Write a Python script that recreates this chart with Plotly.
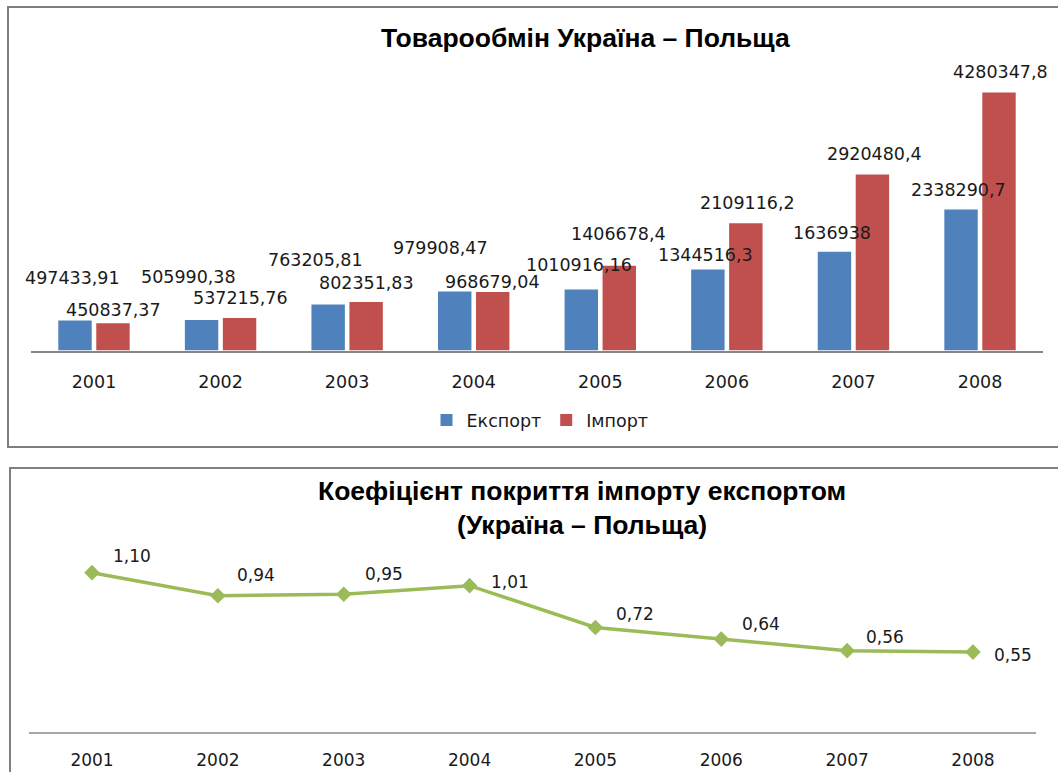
import plotly.graph_objects as go

years = ["2001", "2002", "2003", "2004", "2005", "2006", "2007", "2008"]
export_vals = [497433.91, 505990.38, 763205.81, 979908.47, 1010916.16, 1344516.3, 1636938, 2338290.7]
import_vals = [450837.37, 537215.76, 802351.83, 968679.04, 1406678.4, 2109116.2, 2920480.4, 4280347.8]
export_labels = ["497433,91", "505990,38", "763205,81", "979908,47", "1010916,16", "1344516,3", "1636938", "2338290,7"]
import_labels = ["450837,37", "537215,76", "802351,83", "968679,04", "1406678,4", "2109116,2", "2920480,4", "4280347,8"]
coef_vals = [1.10, 0.94, 0.95, 1.01, 0.72, 0.64, 0.56, 0.55]
coef_labels = ["1,10", "0,94", "0,95", "1,01", "0,72", "0,64", "0,56", "0,55"]

title_top = "Товарообмін Україна – Польща"
title_bottom = "Коефіцієнт покриття імпорту експортом<br>(Україна – Польща)"

# label offsets (style, pixels)
exp_dx = [0, -11, -11, -12, 0, 0, 0, -1]
exp_dy = [43, 43, 44, 43, 25, 14, 19, 20]
imp_dx = [-1, -1, -2, -2, -3, 0, 0, -1]
imp_dy = [13, 20, 19, 10, 32, 20, 20, 20]
coef_dx = [40, 38, 40, 40, 40, 40, 38, 40]
coef_dy = [17, 21, 20, 4, 14, 15, 14, -3]

W, H = 1058, 772
BLUE = "#4F81BD"
RED = "#C0504D"
GREEN = "#9BBB59"
LFONT = "DejaVu Sans"
TFONT = "Liberation Sans"

def px(x):
    return x / W

def py(y):
    return 1 - y / H

fig = go.Figure()
fig.add_trace(go.Bar(x=years, y=export_vals, name="Експорт", marker_color=BLUE,
                     marker_line_width=0, xaxis="x", yaxis="y"))
fig.add_trace(go.Bar(x=years, y=import_vals, name="Імпорт", marker_color=RED,
                     marker_line_width=0, xaxis="x", yaxis="y"))
fig.add_trace(go.Scatter(x=years, y=coef_vals, mode="lines+markers", showlegend=False,
                         line=dict(color=GREEN, width=3.5),
                         marker=dict(symbol="diamond", size=12, color=GREEN),
                         xaxis="x2", yaxis="y2"))

annotations = []
for i, yr in enumerate(years):
    annotations.append(dict(x=i, y=export_vals[i], xref="x", yref="y", text=export_labels[i],
                            showarrow=False, xshift=-21 + exp_dx[i], yshift=exp_dy[i],
                            font=dict(family=LFONT, size=17.5, color="#1a1a1a")))
    annotations.append(dict(x=i, y=import_vals[i], xref="x", yref="y", text=import_labels[i],
                            showarrow=False, xshift=21 + imp_dx[i], yshift=imp_dy[i],
                            font=dict(family=LFONT, size=17.5, color="#1a1a1a")))
    annotations.append(dict(x=i, y=coef_vals[i], xref="x2", yref="y2", text=coef_labels[i],
                            showarrow=False, xshift=coef_dx[i], yshift=coef_dy[i],
                            font=dict(family=LFONT, size=17, color="#1a1a1a")))

annotations.append(dict(x=px(585), y=py(38), xref="paper", yref="paper", text="<b>" + title_top + "</b>",
                        showarrow=False, xanchor="center", yanchor="middle",
                        font=dict(family=TFONT, size=26.5, color="black")))
annotations.append(dict(x=px(582), y=py(508), xref="paper", yref="paper", text="<b>" + title_bottom + "</b>",
                        showarrow=False, xanchor="center", yanchor="middle",
                        font=dict(family=TFONT, size=26.5, color="black")))

shapes = [
    dict(type="rect", xref="paper", yref="paper", x0=px(8), x1=px(1070), y0=py(447), y1=py(7),
         line=dict(color="#7f7f7f", width=2), fillcolor="rgba(0,0,0,0)"),
    dict(type="rect", xref="paper", yref="paper", x0=px(10), x1=px(1070), y0=py(790), y1=py(468),
         line=dict(color="#7f7f7f", width=2), fillcolor="rgba(0,0,0,0)"),
]

fig.update_layout(
    width=W, height=H,
    margin=dict(l=0, r=0, t=0, b=0, autoexpand=False),
    paper_bgcolor="white", plot_bgcolor="white",
    barmode="group", bargap=0.40, bargroupgap=0.12,
    annotations=annotations, shapes=shapes,
    legend=dict(orientation="h", x=px(540), y=py(420), xanchor="center", yanchor="middle",
                font=dict(family=LFONT, size=17.5, color="#1a1a1a"), bgcolor="rgba(0,0,0,0)"),
    xaxis=dict(domain=[px(30.7), px(1043.3)], anchor="y", type="category", range=[-0.5, 7.5],
               showline=True, linecolor="#868686", linewidth=1.5, showgrid=False, automargin=False,
               ticks="outside", ticklen=15, tickcolor="rgba(0,0,0,0)",
               tickfont=dict(family=LFONT, size=17.5, color="#1a1a1a")),
    yaxis=dict(domain=[py(350.5), py(70)], anchor="x", range=[0, (350.5 - 70) / 60.3e-6],
               visible=False, showgrid=False),
    xaxis2=dict(domain=[px(29.1), px(1035.9)], anchor="y2", type="category", range=[-0.5, 7.5],
                showline=True, linecolor="#A6A6A6", linewidth=1.5, showgrid=False, automargin=False,
                ticks="outside", ticklen=12, tickcolor="rgba(0,0,0,0)",
                tickfont=dict(family=LFONT, size=17, color="#1a1a1a")),
    yaxis2=dict(domain=[py(731.5), py(546)], anchor="x2", range=[0, (731.5 - 546) / 144.4],
                visible=False, showgrid=False),
)

fig.write_html("out.html", config={"displayModeBar": False},
               post_script="document.body.style.margin='0';")
